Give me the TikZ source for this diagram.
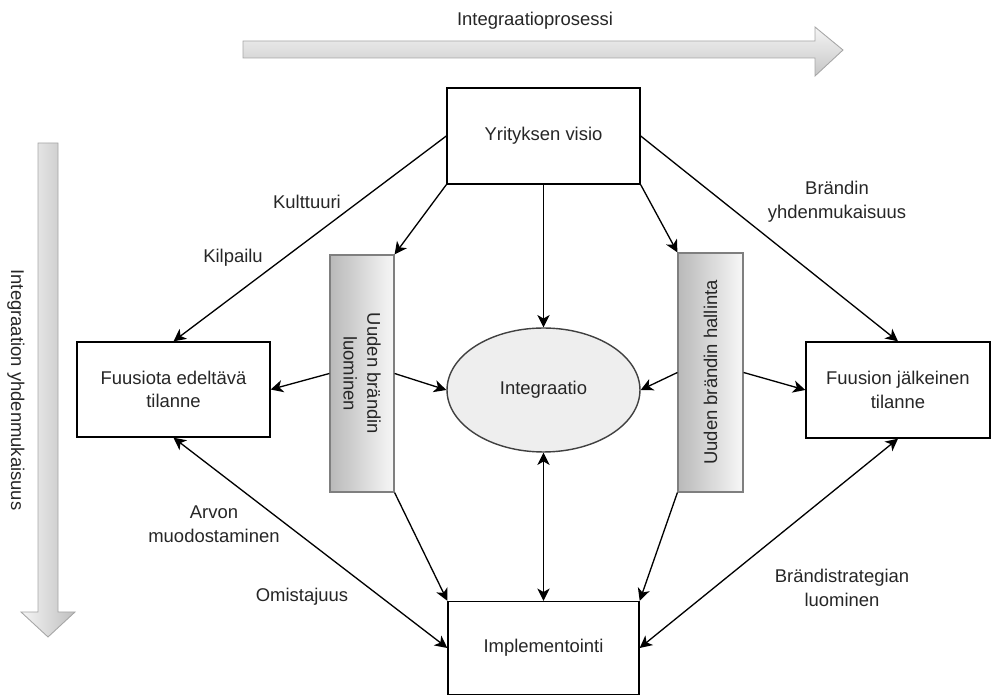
\documentclass[tikz,border=0pt]{standalone}
\usepackage{fontspec}
\setmainfont{Liberation Sans}
\usepackage{tikz}
\usetikzlibrary{shapes.geometric, arrows.meta, positioning, calc}
\definecolor{inktext}{HTML}{262626}
\definecolor{edgegray}{HTML}{7F7F7F}

\begin{document}
\begin{tikzpicture}[x=0.02cm, y=-0.02cm, font=\fontsize{10.5}{13.5}\selectfont, text=inktext]
  \useasboundingbox (0,0) rectangle (992,695);

  % Box and connector styles
  \tikzset{
    plainbox/.style={draw=black, line width=0.8pt, fill=white, align=center, inner sep=2pt},
    brandbox/.style={draw=edgegray, line width=0.7pt, left color=gray!55, right color=gray!6, align=center, inner sep=2pt},
    flow/.style={line width=0.75pt, -{Stealth[length=7pt, width=7pt, inset=2pt]}},
    twoway/.style={line width=0.75pt, {Stealth[length=7pt, width=7pt, inset=2pt]}-{Stealth[length=7pt, width=7pt, inset=2pt]}},
    lbl/.style={align=center, inner sep=1pt}
  }

  % Process arrows - top and left side
  \shade[top color=gray!8, bottom color=gray!45, draw=gray!70, line width=0.5pt]
    (243,41) -- (815,41) -- (815,27) -- (843,50) -- (815,76) -- (815,58) -- (243,58) -- cycle;
  \node (prosessi) at (535,21) {Integraatioprosessi};
  \shade[left color=gray!8, right color=gray!50, draw=gray!70, line width=0.5pt]
    (38,143) -- (58,143) -- (58,612) -- (75,612) -- (48,637) -- (21,612) -- (38,612) -- cycle;
  \node[rotate=-90] (yhtenaisyys) at (16,390) {Integraation yhdenmukaisuus};

  % Main boxes
  \node[plainbox, minimum width=3.86cm, minimum height=1.92cm] (visio) at (543.5,136) {Yrityksen visio};
  \node[plainbox, minimum width=3.86cm, minimum height=1.9cm] (edeltava) at (173.5,389.5) {Fuusiota edeltävä\\tilanne};
  \node[plainbox, minimum width=3.68cm, minimum height=1.92cm] (jalkeinen) at (898,390) {Fuusion jälkeinen\\tilanne};
  \node[plainbox, minimum width=3.82cm, minimum height=1.86cm] (implementointi) at (543.5,648) {Implementointi};
  \node[ellipse, draw=black!75, line width=0.8pt, fill=gray!13, minimum width=3.86cm, minimum height=2.48cm] (integraatio) at (543.5,390) {Integraatio};

  % Gray side bars
  \node[brandbox, minimum width=1.28cm, minimum height=4.74cm] (luominen) at (362,373.5) {};
  \node[rotate=-90, align=center] at (luominen.center) {Uuden brändin\\luominen};
  \node[brandbox, minimum width=1.3cm, minimum height=4.78cm] (hallinta) at (710.5,372.5) {};
  \node[rotate=90] at (hallinta.center) {Uuden brändin hallinta};

  % Connectors from the vision
  \draw[flow] (visio.west) -- (edeltava.north);
  \draw[flow] (visio.south west) -- (luominen.north east);
  \draw[flow] (visio.south) -- (integraatio.north);
  \draw[flow] (visio.south east) -- (hallinta.north west);
  \draw[flow] (visio.east) -- (jalkeinen.north);

  % Connectors across the middle
  \draw[flow] (luominen.west) -- (edeltava.east);
  \draw[flow] (luominen.east) -- (integraatio.west);
  \draw[flow] (hallinta.west) -- (integraatio.east);
  \draw[flow] (hallinta.east) -- (jalkeinen.west);

  % Connectors towards implementation
  \draw[twoway] (edeltava.south) -- (implementointi.west);
  \draw[flow] (luominen.south east) -- (implementointi.north west);
  \draw[twoway] (integraatio.south) -- (implementointi.north);
  \draw[flow] (hallinta.south west) -- (implementointi.north east);
  \draw[twoway] (jalkeinen.south) -- (implementointi.east);

  % Edge labels
  \node[lbl] (kulttuuri) at (307,202) {Kulttuuri};
  \node[lbl] (kilpailu) at (233,258) {Kilpailu};
  \node[lbl] (yhdenmukaisuus) at (837,202) {Brändin\\yhdenmukaisuus};
  \node[lbl] (arvo) at (214,524) {Arvon\\muodostaminen};
  \node[lbl] (omistajuus) at (302,597) {Omistajuus};
  \node[lbl] (strategia) at (842,588) {Brändistrategian\\luominen};
\end{tikzpicture}
\end{document}
